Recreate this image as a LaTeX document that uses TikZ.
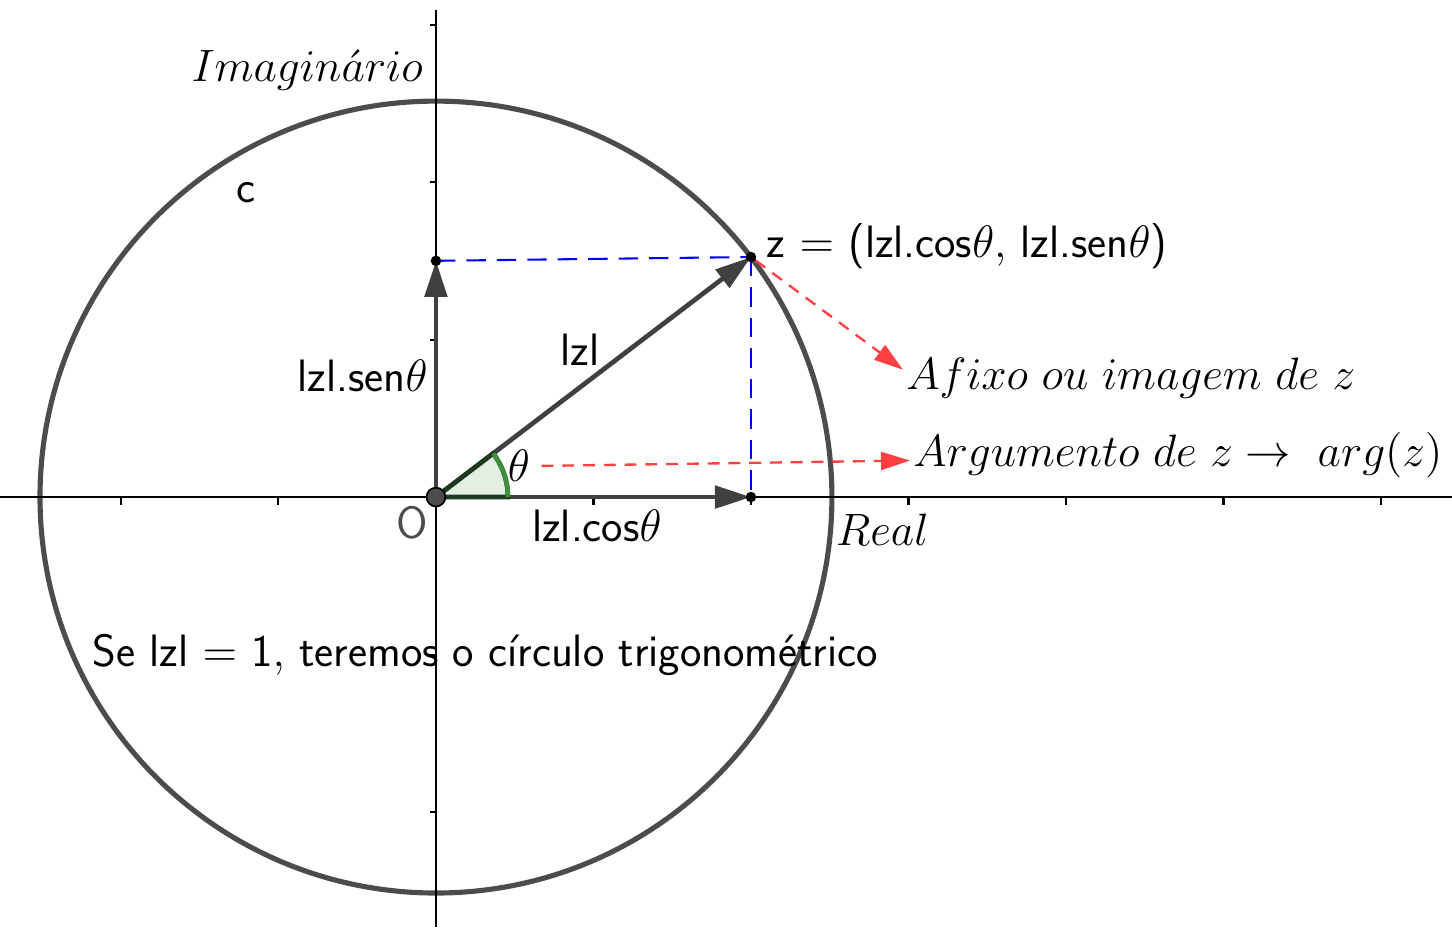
\RequirePackage{fix-cm}
\documentclass[tikz,border=0pt]{standalone}
\usepackage{fontspec}
\usetikzlibrary{arrows.meta}
\definecolor{angfill}{HTML}{E3EFE3}
\definecolor{anggreen}{HTML}{3F8F3F}
\definecolor{angdark}{HTML}{1E3A1E}

\begin{document}
\begin{tikzpicture}[
  x=2cm, y=2cm,
  axis/.style={line width=0.75pt, black},
  circ/.style={line width=1.85pt, draw=black!70},
  vec/.style={-{Triangle[length=13pt, width=8pt]}, line width=1.7pt, draw=black!75, fill=black!75},
  proj/.style={dash pattern=on 7pt off 4pt, line width=0.75pt, blue},
  redarr/.style={-{Triangle[length=10.5pt, width=6.5pt]}, dash pattern=on 4.3pt off 3.2pt,
                 line width=0.85pt, color=red!75},
  pt/.style={circle, fill=black, inner sep=0pt, minimum size=3.8pt},
  ital/.style={font=\fontsize{16.4}{19}\selectfont, inner sep=1pt},
  sans/.style={font=\fontsize{16.4}{19}\selectfont\sffamily, inner sep=1pt}
]
\useasboundingbox (-2.768,-2.730) rectangle (6.451,3.156);

% Points
\coordinate (O) at (0,0);
\coordinate (z) at (2,1.524);
\coordinate (zx) at (2,0);
\coordinate (zy) at (0,1.5);

% Circle and axes
\draw[circ] (O) circle[radius=2.514];
\draw[axis] (-2.768,0) -- (6.451,0);
\draw[axis] (0,-2.730) -- (0,3.092);
\foreach \x in {-2,-1,1,2,3,4,5,6}
  \draw[axis] (\x,0) -- (\x,-0.05);
\foreach \y in {-2,-1,1,2,3}
  \draw[axis] (0,\y) -- (-0.04,\y);

% Projections
\draw[proj] (zy) -- (z);
\draw[proj] (z) -- (zx);

% Vectors
\draw[vec] (O) -- (z);
\draw[vec] (O) -- (zx);
\draw[vec] (O) -- (zy);

% Angle
\filldraw[fill=angfill, draw=angdark, line width=1.7pt] (O) -- (0.457,0) arc[start angle=0, end angle=37.3, radius=0.457] -- cycle;
\draw[anggreen, line width=1.6pt] (0.457,0) arc[start angle=0, end angle=37.3, radius=0.457];

% Dots
\node[circle, fill=black!70, draw=black, line width=0.6pt, inner sep=0pt, minimum size=6.8pt] (o) at (O) {};
\node[pt] (zp) at (z) {};
\node[pt] (zxp) at (zx) {};
\node[pt] (zyp) at (zy) {};

% Labels
\node[ital, anchor=east] (imag) at (-0.063,2.71) {$Imagin\acute{a}rio$};
\node[ital, anchor=west] (real) at (2.52,-0.21) {$Real$};
\node[sans] (c) at (-1.206,1.930) {c};
\node[sans, text=black!70] (olbl) at (-0.152,-0.165) {O};
\node[sans, anchor=west] (zlbl) at (2.08,1.59) {z $=$ (lzl.cos$\theta,$ lzl.sen$\theta$)};
\node[sans] (mod) at (0.914,0.933) {lzl};
\node[sans, anchor=east] (sen) at (-0.032,0.768) {lzl.sen$\theta$};
\node[sans] (cos) at (1.022,-0.184) {lzl.cos$\theta$};
\node[ital] (theta) at (0.527,0.197) {$\theta$};
\node[ital, anchor=west] (afixo) at (2.965,0.756) {$Afixo\ ou\ imagem\ de\ z$};
\node[ital, anchor=west] (arg) at (3.01,0.267) {$Argumento\ de\ z \rightarrow\ arg(z)$};
\node[sans, anchor=west] (trig) at (-2.2,-1.003) {Se lzl $=$ 1$,$ teremos o círculo trigonométrico};

% Red arrows
\draw[redarr] (zp) -- ([yshift=3pt]afixo.west);
\draw[redarr, shorten <=3pt] (theta.east) -- ([yshift=-2pt]arg.west);

\end{tikzpicture}
\end{document}
